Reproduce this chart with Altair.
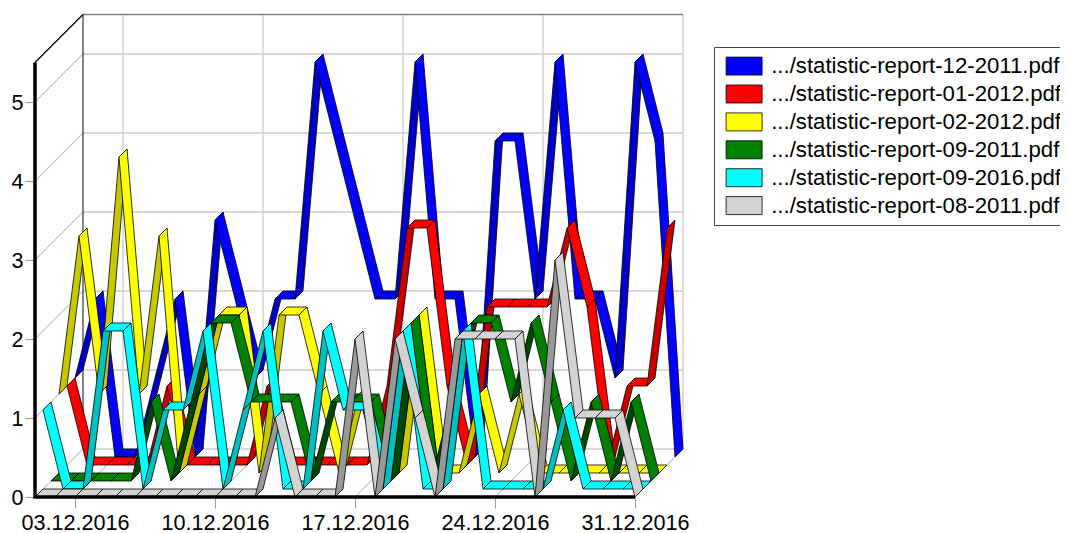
import altair as alt
import pandas as pd

names = [".../statistic-report-12-2011.pdf", ".../statistic-report-01-2012.pdf",
         ".../statistic-report-02-2012.pdf", ".../statistic-report-09-2011.pdf",
         ".../statistic-report-09-2016.pdf", ".../statistic-report-08-2011.pdf"]
blue   = [1,2,0,0,1,2,0,3,2,1,2,2,5,4,3,2,2,5,2,2,0,4,4,2,5,2,2,1,5,4,0]
red    = [1,0,0,0,0,1,0,0,0,0,1,0,0,0,0,0,1,3,3,1,0,2,2,2,2,3,2,0,1,1,3]
yellow = [1,3,1,4,1,3,0,1,2,2,0,2,2,1,0,1,0,0,2,0,0,1,0,1,0,0,0,0,0,0,0]
green  = [0,0,0,0,0,1,0,1,2,2,1,1,1,0,1,1,1,0,2,0,1,2,2,1,2,1,0,1,0,1,0]
cyan   = [1,0,0,2,2,0,1,1,2,0,1,2,0,0,2,1,1,0,2,0,0,2,0,0,0,0,1,0,0,0,0]
grey   = [0,0,0,0,0,0,0,0,0,0,0,0,1,0,0,0,2,0,2,1,0,2,2,2,2,0,3,1,1,1,0]
series = [blue, red, yellow, green, cyan, grey]
bright = ["#0000ff", "#ff0000", "#ffff00", "#008000", "#00ffff", "#d3d3d3"]
dark   = ["#0000c8", "#c80000", "#c8c800", "#004800", "#00c0c0", "#999999"]
tick_days = [3, 10, 17, 24, 31]
y_ticks = [0, 1, 2, 3, 4, 5]

PX_DAY, PX_UNIT = 20.0, 79.0
SLOT = 8.0                      # ribbon depth in pixels
DEPTH = 48.0                    # whole-chart depth in pixels
W, H = 648, 483
YMAX = 5.5
dx = lambda px: px / PX_DAY
dy = lambda px: px / PX_UNIT

rows, fid = [], 0
for s, vals in enumerate(series):
    near = (5 - s) * SLOT
    far = near + SLOT
    for i in range(len(vals) - 1):
        a, b = vals[i], vals[i + 1]
        key = names[s] if b <= a else names[s] + " (shade)"
        d0, d1 = i + 1, i + 2
        poly = [(d0, a, near), (d1, b, near), (d1, b, far), (d0, a, far)]
        for o, (d, v, z) in enumerate(poly):
            rows.append(dict(face=f"f{fid:04d}", o=o, key=key,
                             x=d + dx(z), y=v + dy(z)))
        fid += 1
faces = pd.DataFrame(rows)

walls, wid = [], 0
def seg(pts, kind):
    global wid
    for o, (x, y) in enumerate(pts):
        walls.append(dict(w=f"w{wid:03d}", o=o, x=x, y=y, kind=kind))
    wid += 1

D, U = dx(DEPTH), dy(DEPTH)
for v in y_ticks[1:]:
    seg([(1, v), (1 + D, v + U), (31 + D, v + U)], "grid")
seg([(1 + D, YMAX + U), (31 + D, YMAX + U)], "top")
seg([(1, 0), (1 + D, U)], "grid")
seg([(1 + D, U), (31 + D, U)], "grid")
for d in tick_days:
    seg([(d, 0), (d + D, U), (d + D, YMAX + U)], "grid")
seg([(1 + D, U), (1 + D, YMAX + U)], "back")
seg([(1, YMAX), (1 + D, YMAX + U)], "edge")
wall_df = pd.DataFrame(walls)

x_scale = alt.Scale(domain=[1, 1 + W / PX_DAY], nice=False, zero=False)
y_scale = alt.Scale(domain=[0, H / PX_UNIT], nice=False, zero=False)
X = alt.X("x:Q", scale=x_scale, title=None, axis=alt.Axis(
    values=tick_days, labelExpr="format(datum.value,'02d')+'.12.2016'", title=None,
    grid=False, domain=False, tickColor="#999999", tickSize=11, labelFontSize=21.6,
    labelColor="black", labelFont="Liberation Sans", labelPadding=4, labelOverlap=False))
Y = alt.Y("y:Q", scale=y_scale, title=None, axis=alt.Axis(
    values=y_ticks, title=None, format="d",
    grid=False, domain=False, tickColor="#999999", tickSize=10, labelFontSize=21.6,
    labelColor="black", labelFont="Liberation Sans", labelPadding=2, labelOffset=1.5))

def wall_layer(kind, color, width):
    return alt.Chart(wall_df[wall_df.kind == kind]).mark_line(
        color=color, strokeWidth=width
    ).encode(x=X, y=Y, detail="w:N", order="o:Q")

ribbons = alt.Chart(faces).mark_line(
    stroke="black", strokeWidth=0.8, interpolate="linear-closed", strokeJoin="miter"
).encode(
    x=X, y=Y,
    detail="face:N",
    order="o:Q",
    fill=alt.Fill("key:N",
        scale=alt.Scale(domain=names + [n + " (shade)" for n in names], range=bright + dark),
        legend=alt.Legend(
            values=names, title=None, orient="none", legendX=679, legendY=33,
            symbolType="M-2,-1H2V1H-2Z", symbolSize=324, symbolOffset=11,
            symbolStrokeColor="black", symbolStrokeWidth=0.8, symbolOpacity=1,
            labelFontSize=22.2, labelFont="Liberation Sans",
            labelColor="black", labelLimit=400, labelOffset=16, rowPadding=4.9,
            padding=8, fillColor="white", strokeColor="#444444")),
)

axis_lines = alt.Chart(pd.DataFrame({"x": [1, 1, 31], "y": [YMAX, 0, 0], "o": [0, 1, 2]})).mark_line(
    color="black", strokeWidth=3.5
).encode(x=X, y=Y, order="o:Q")

chart = alt.layer(
    wall_layer("grid", "#cccccc", 1.3),
    wall_layer("top", "#808080", 1.5),
    wall_layer("back", "#333333", 1.2),
    wall_layer("edge", "black", 1.2),
    ribbons, axis_lines,
).properties(
    width=W, height=H,
    autosize=alt.AutoSizeParams(type="none"),
    padding={"left": 27, "top": 6, "right": 377, "bottom": 36},
).configure_view(stroke=None)

chart.save("out.html", embed_options={"renderer": "svg", "actions": False})
